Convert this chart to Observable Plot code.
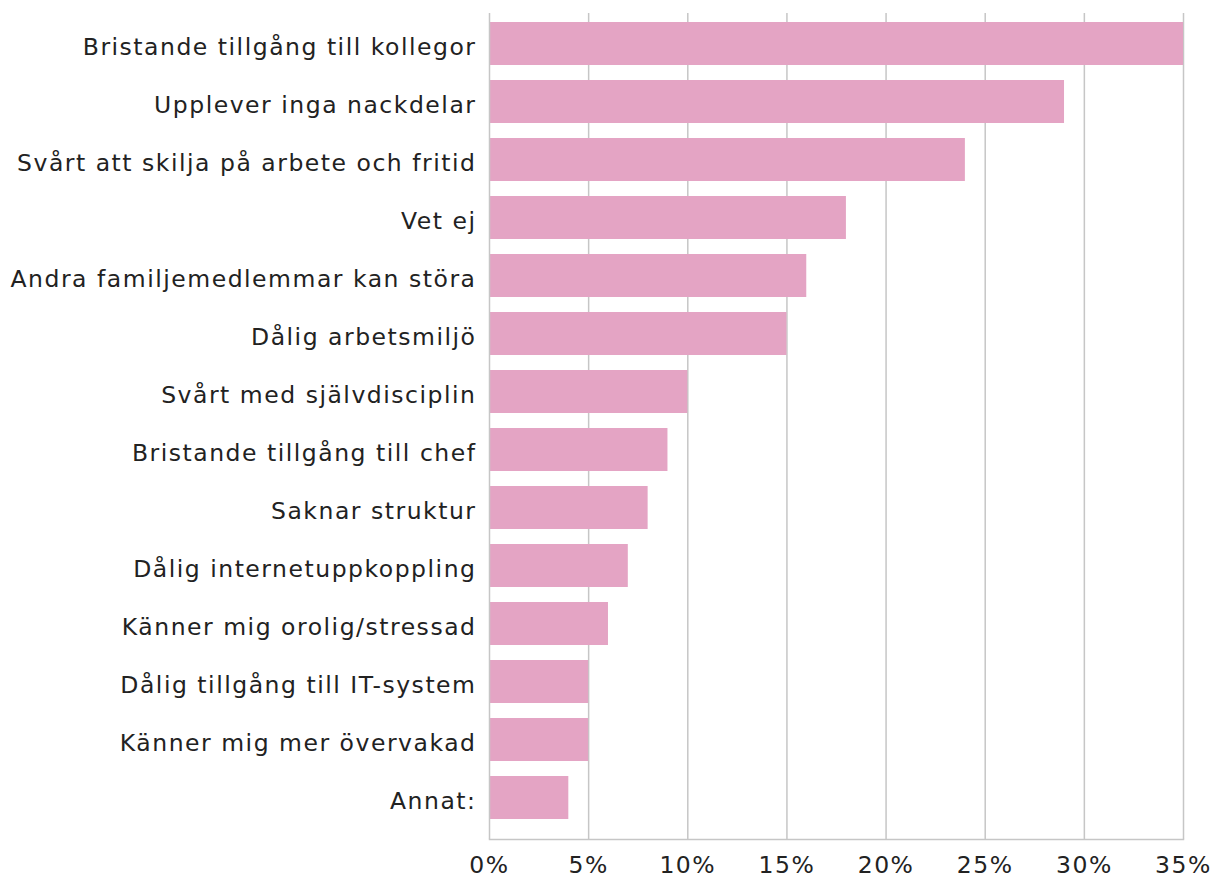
<!DOCTYPE html>
<html>
<head>
<meta charset="utf-8">
<script src="https://cdn.jsdelivr.net/npm/d3@7"></script>
<script src="https://cdn.jsdelivr.net/npm/@observablehq/plot@0.6"></script>
<style>
  html, body { margin: 0; padding: 0; background: #fff; }
  #chart svg { display: block; }
</style>
</head>
<body>
<div id="chart"></div>
<script>
const categories = [
  "Bristande tillgång till kollegor",
  "Upplever inga nackdelar",
  "Svårt att skilja på arbete och fritid",
  "Vet ej",
  "Andra familjemedlemmar kan störa",
  "Dålig arbetsmiljö",
  "Svårt med självdisciplin",
  "Bristande tillgång till chef",
  "Saknar struktur",
  "Dålig internetuppkoppling",
  "Känner mig orolig/stressad",
  "Dålig tillgång till IT-system",
  "Känner mig mer övervakad",
  "Annat:"
];
const values = [35, 29, 24, 18, 16, 15, 10, 9, 8, 7, 6, 5, 5, 4];
const xTicks = [0, 5, 10, 15, 20, 25, 30, 35];

const data = categories.map((c, i) => ({category: c, value: values[i]}));

const FONT = "DejaVu Sans";
const FS = 23.5;
// match the reference label width for one label (~466px)
const ctx = document.createElement("canvas").getContext("2d");
ctx.font = `${FS}px "${FONT}"`;
const probe = "Andra familjemedlemmar kan störa";
const w = ctx.measureText(probe).width;
const ls = Math.max(0, (466 - w) / probe.length);

const chart = Plot.plot({
  width: 1213,
  height: 880,
  marginLeft: 489,
  marginRight: 30,
  marginTop: 13,
  marginBottom: 41,
  style: {fontFamily: `"${FONT}", sans-serif`, fontSize: FS + "px", color: "#222", background: "#fff", letterSpacing: ls + "px"},
  x: {domain: [0, 35], ticks: xTicks, tickFormat: d => d + "%", label: null},
  y: {domain: categories, range: [21, 820], paddingInner: 0.26, paddingOuter: 0, label: null},
  marks: [
    Plot.ruleX(xTicks.filter(d => d > 0), {stroke: "#c6c6c6", strokeWidth: 1.5}),
    Plot.barX(data, {x: "value", y: "category", fill: "#e4a4c4"}),
    Plot.ruleX([0], {stroke: "#c6c6c6", strokeWidth: 1.5}),
    Plot.axisX({ticks: xTicks, tickFormat: d => d + "%", tickSize: 0, tickPadding: 17, fontSize: FS, label: null}),
    Plot.axisY({tickSize: 0, tickPadding: 13, fontSize: FS, label: null, dy: 3}),
    Plot.frame({anchor: "bottom", stroke: "#c6c6c6", strokeWidth: 1.5})
  ]
});
document.getElementById("chart").appendChild(chart);
</script>
</body>
</html>
